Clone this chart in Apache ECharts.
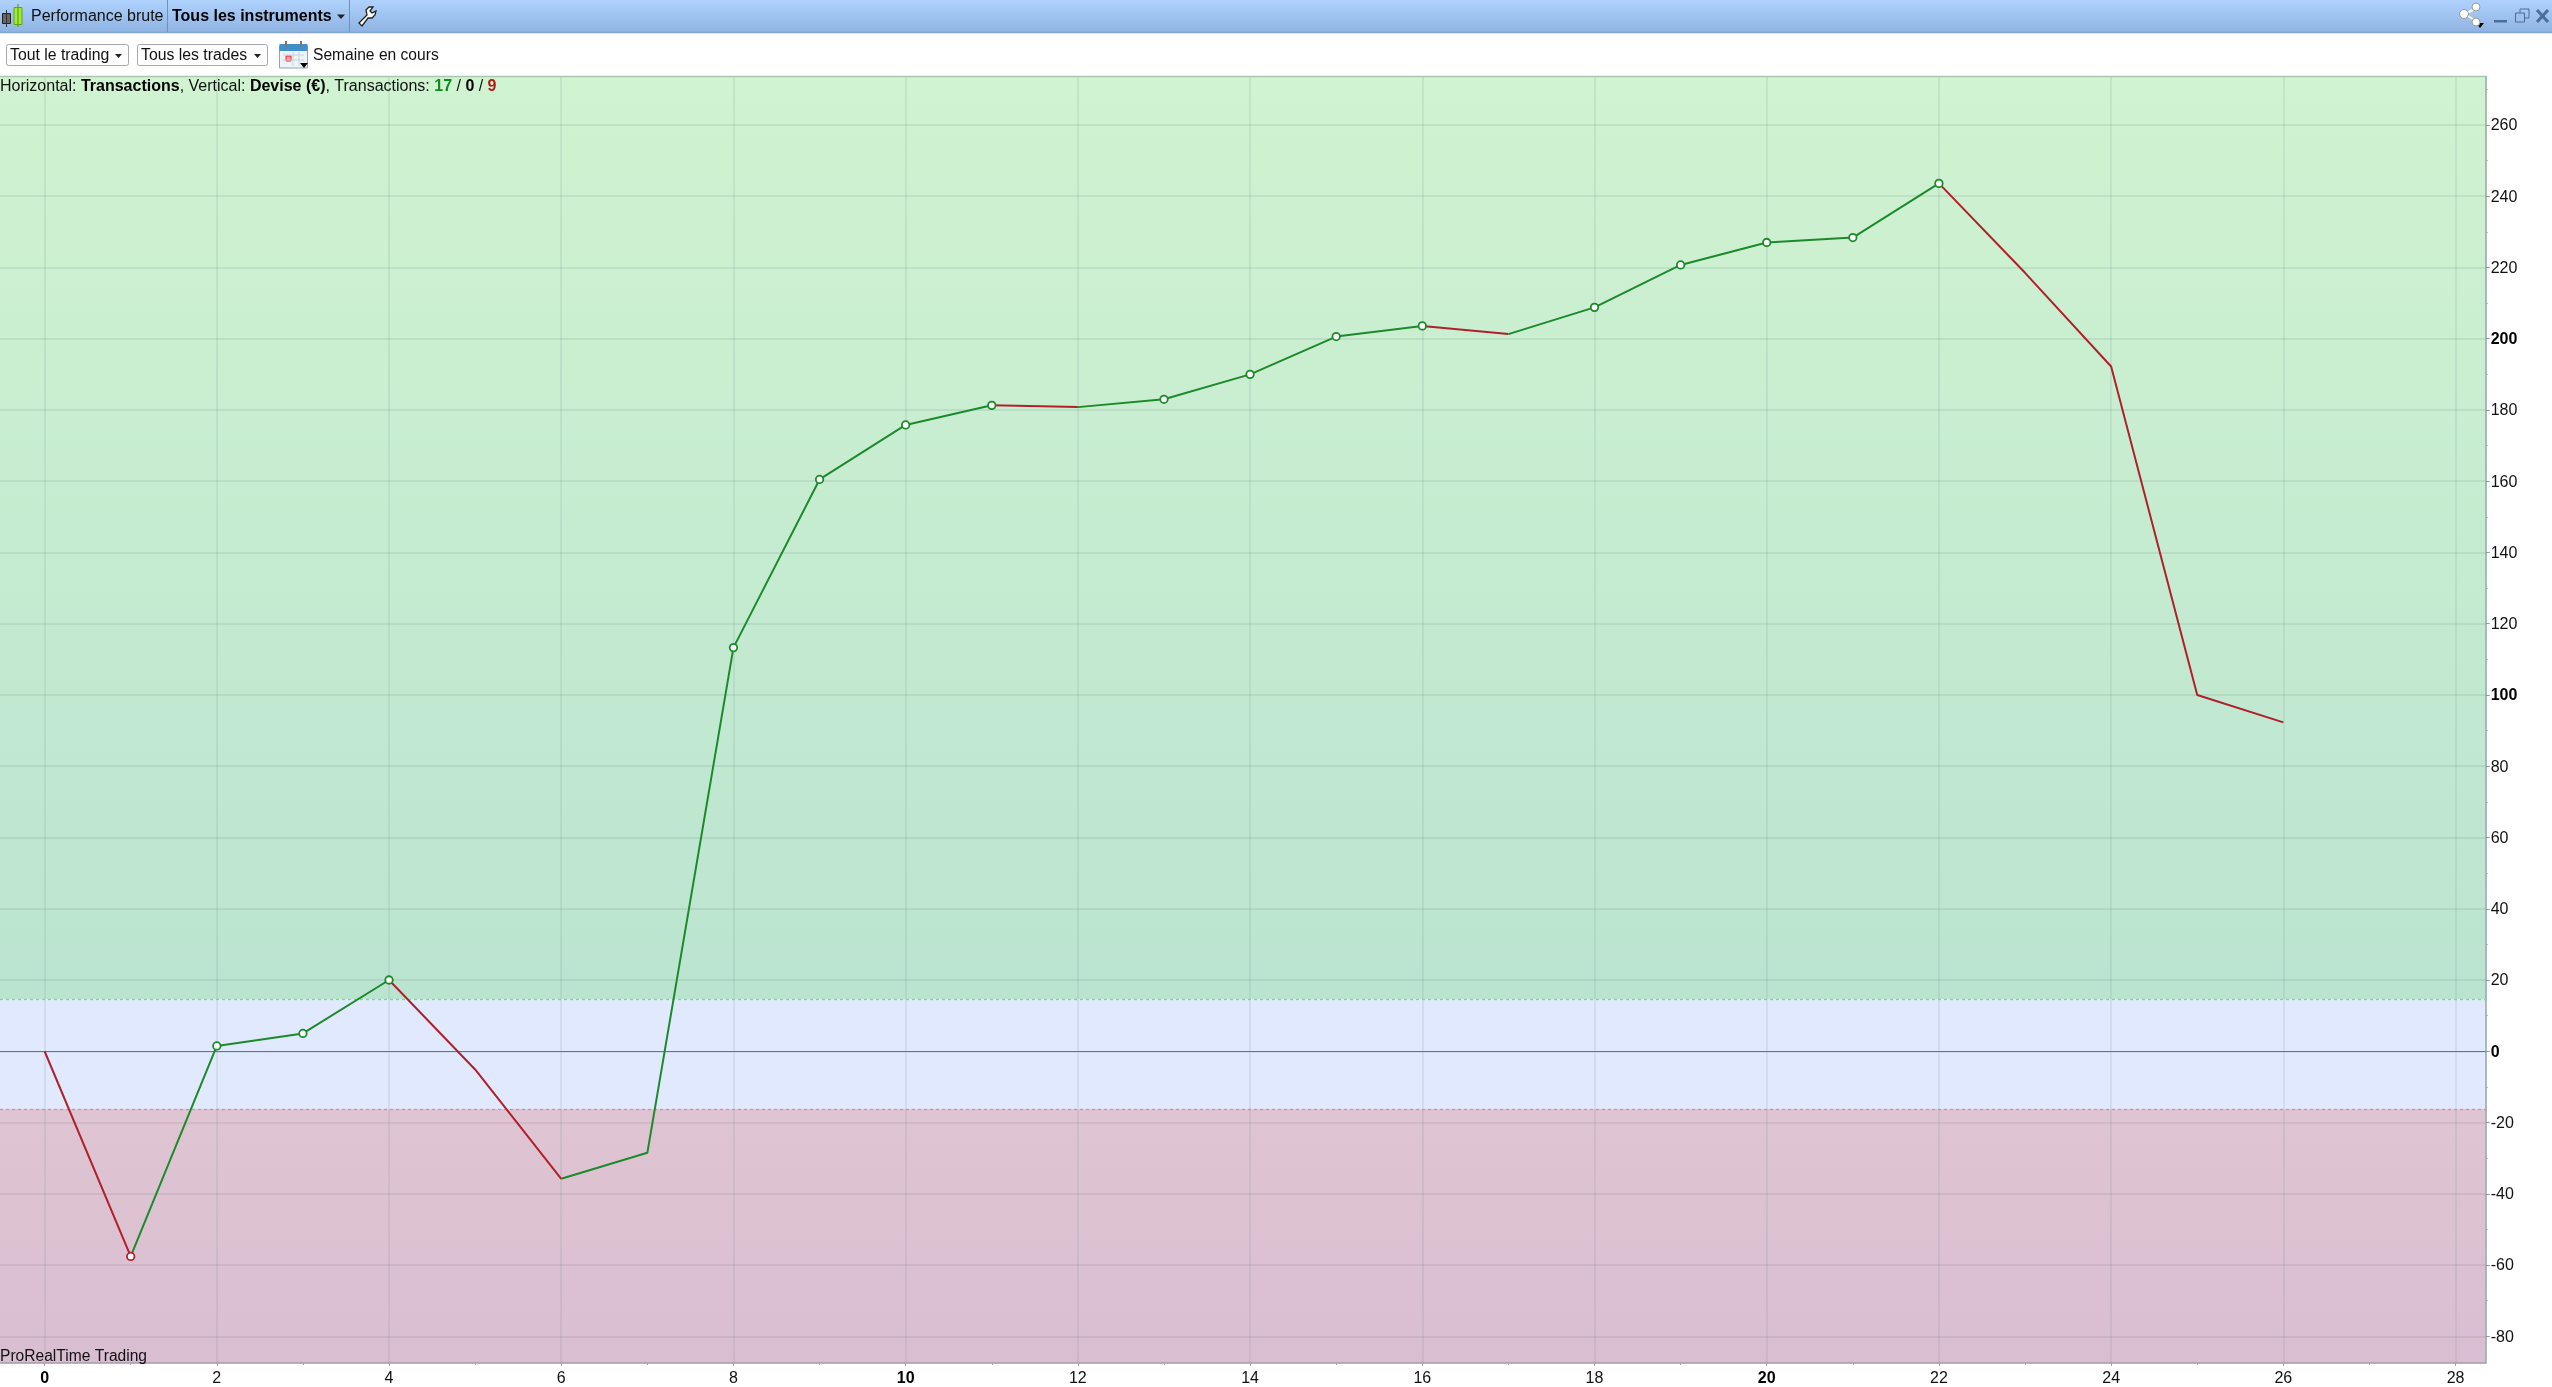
<!DOCTYPE html>
<html><head><meta charset="utf-8">
<style>html,body{margin:0;padding:0;background:#fff;overflow:hidden}#c{width:2552px;height:1387px}</style>
<script src="https://cdn.jsdelivr.net/npm/echarts@6/dist/echarts.min.js"></script>
</head><body><div id="c"></div>
<script>
const tradeIndex = [0,1,2,3,4,5,6,7,8,9,10,11,12,13,14,15,16,17,18,19,20,21,22,23,24,25,26];
const netProfit = [0,-57.6,1.5,5,20,-5.1,-35.8,-28.5,113.3,160.5,175.8,181.3,180.8,183,190,200.6,203.6,201.3,208.8,220.7,227,228.4,243.6,218.5,192.2,100,92.3];
const winMarkers = [2,3,4,8,9,10,11,13,14,15,16,18,19,20,21,22];
const lossMarkers = [1];
const xTicks = [0,2,4,6,8,10,12,14,16,18,20,22,24,26,28];
const xMinorTicks = [1,3,5,7,9,11,13,15,17,19,21,23,25,27];
const yTicks = [-80,-60,-40,-20,0,20,40,60,80,100,120,140,160,180,200,220,240,260];
const yMinorTicks = [-70,-50,-30,-10,10,30,50,70,90,110,130,150,170,190,210,230,250,270];
const boldX = [0,10,20];
const boldY = [0,100,200];
const xMin = -0.518, xMax = 28.35, yMin = -87.5, yMax = 273.6;
const neutralTop = 14.7, neutralBottom = -16.2;

const FONT = '"Liberation Sans", Arial, sans-serif';
const GREEN = '#1c8a2b', RED = '#b0202c';

const runs = [];
for (let i = 1; i < netProfit.length; i++) {
  const up = netProfit[i] >= netProfit[i-1];
  const last = runs[runs.length-1];
  if (last && last.up === up) last.pts.push([tradeIndex[i], netProfit[i]]);
  else runs.push({up, pts:[[tradeIndex[i-1], netProfit[i-1]],[tradeIndex[i], netProfit[i]]]});
}
const lineSeries = runs.map(r => ({
  type:'line', data:r.pts, symbol:'none', silent:true, z:5, animation:false,
  lineStyle:{color:r.up?GREEN:RED, width:2}
}));
const grad = (a,b) => ({type:'linear',x:0,y:0,x2:0,y2:1,colorStops:[{offset:0,color:a},{offset:1,color:b}]});

const boldFmt = list => v => '{' + (list.includes(v) ? 'b' : 'n') + '|' + v + '}';
const labelRich = {
  b:{fontFamily:FONT,fontSize:16,fontWeight:'bold',color:'#000',padding:[2,0,0,0]},
  n:{fontFamily:FONT,fontSize:16,color:'#111',padding:[2,0,0,0]}
};

const txt = (x,y,text,extra={}) => ({type:'text',x,y,z:50,silent:true,style:Object.assign({text,fill:'#111',font:'16px '+FONT,verticalAlign:'middle',align:'left'},extra)});
const rect = (x,y,w,h,fill,stroke) => ({type:'rect',z:40,silent:true,shape:{x,y,width:w,height:h},style:{fill,stroke:stroke||null,lineWidth:1}});
const tri = (x,y,w,h,fill) => ({type:'polygon',z:45,silent:true,shape:{points:[[x,y],[x+w,y],[x+w/2,y+h]]},style:{fill:fill||'#222'}});
const ln = (x1,y1,x2,y2,stroke,w) => ({type:'line',z:45,silent:true,shape:{x1,y1,x2,y2},style:{stroke,lineWidth:w||1}});

const chrome = [
  rect(0,0,2552,32,grad('#afd2fd','#8fb4e2')),
  ln(0,32.5,2552,32.5,'#7fa3cf',1.5),
  ln(167.5,0,167.5,32,'#6f93bf'),
  ln(349.5,0,349.5,32,'#6f93bf'),
  ln(0,76.5,2486,76.5,'#a6c9ad',1.5),
  // candle icon
  ln(6.5,10,6.5,27,'#333',1), rect(2.5,13.5,8,10,'#666','#222'),
  ln(18,4,18,27,'#5aa80e',1.2), rect(14,7.5,8,17,'#a4e83a','#5aa80e'),
  txt(31,17,'Performance brute'),
  txt(172,17,'Tous les instruments',{font:'bold 16px '+FONT,fill:'#000'}),
  tri(337,14.5,8,4.5),
  {type:'polygon',z:45,silent:true,shape:{points:[[359,23],[367,15],[366,10],[369,7],[373,7],[370,11],[372,13],[376,11],[375,15],[372,18],[368,18],[362,26]]},style:{fill:'#fff',stroke:'#222',lineWidth:1.3}},
  // window controls
  ln(2465,14,2477,8,'#fff',2), ln(2465,14,2477,22,'#fff',2),
  {type:'circle',z:46,silent:true,shape:{cx:2464,cy:14,r:4.5},style:{fill:'#fff',stroke:'#999'}},
  {type:'circle',z:46,silent:true,shape:{cx:2476,cy:7,r:4},style:{fill:'#fff',stroke:'#999'}},
  {type:'circle',z:46,silent:true,shape:{cx:2476,cy:22,r:4},style:{fill:'#fff',stroke:'#999'}},
  tri(2476,23,8,5,'#000'),
  rect(2494,20,13,2.5,'#4d6d96'),
  rect(2520,9,9,9,'none','#4d6d96'),
  rect(2515.5,13,9,9,'#9dc1ec','#4d6d96'),
  ln(2537,10,2548,22,'#4d6d96',3), ln(2548,10,2537,22,'#4d6d96',3),
  // row 2
  {type:'rect',z:40,silent:true,shape:{x:6.5,y:44.5,width:122,height:21,r:2},style:{fill:'#fdfdfd',stroke:'#a9a9a9'}},
  txt(10,56,'Tout le trading',{font:'15.8px '+FONT}), tri(115,54,7,4),
  {type:'rect',z:40,silent:true,shape:{x:137.5,y:44.5,width:130,height:21,r:2},style:{fill:'#fdfdfd',stroke:'#a9a9a9'}},
  txt(141,56,'Tous les trades',{font:'15.8px '+FONT}), tri(254,54,7,4),
  // calendar
  rect(279.5,46,28,22,'#eef3f8','#8ea5bb'),
  rect(279.5,44,28,7,'#3f8fc9'),
  rect(285,41,2,6,'#777'), rect(300,41,2,6,'#777'),
  rect(286,56,5,5,'#f4a0a0','#e23'),
  ln(283,55,304,55,'#c5d2de'), ln(283,60,304,60,'#c5d2de'), ln(293,52,293,66,'#c5d2de'), ln(299,52,299,66,'#c5d2de'),
  tri(300,63,8,5,'#000'),
  txt(313,56,'Semaine en cours',{font:'15.6px '+FONT}),
  // info line
  {type:'text',x:0,y:87,z:50,silent:true,style:{
    text:'{n|Horizontal: }{b|Transactions}{n|, Vertical: }{b|Devise (€)}{n|, Transactions: }{g|17}{n| / }{b|0}{n| / }{r|9}',
    verticalAlign:'middle',align:'left',
    rich:{
      n:{font:'16px '+FONT,fill:'#111'},
      b:{font:'bold 16px '+FONT,fill:'#000'},
      g:{font:'bold 16px '+FONT,fill:'#0f8a1f'},
      r:{font:'bold 16px '+FONT,fill:'#b81414'}
    }
  }},
  txt(0,1357,'ProRealTime Trading',{font:'15.6px '+FONT})
];

const option = {
  animation:false,
  backgroundColor:'#fff',
  grid:{left:0,right:66.3,top:76.5,bottom:21.3,containLabel:false,show:false},
  xAxis:[
    {type:'value',position:'bottom',min:xMin,max:xMax,z:1,
     axisLine:{show:true,onZero:false,lineStyle:{color:'#a59aa8',width:1.5}},
     axisTick:{show:true,length:3,customValues:xTicks,lineStyle:{color:'#a9a0ad'}},
     axisLabel:{show:true,customValues:xTicks,margin:6,fontFamily:FONT,fontSize:16,color:'#111',formatter:boldFmt(boldX),rich:labelRich},
     splitLine:{show:true,lineStyle:{color:'rgba(90,110,130,0.14)',width:1.5}}},
    {type:'value',position:'bottom',min:xMin,max:xMax,z:1,
     axisLine:{show:false,onZero:false},
     axisTick:{show:true,length:2,customValues:xMinorTicks,lineStyle:{color:'#a9a0ad'}},
     axisLabel:{show:false},splitLine:{show:false}}
  ],
  yAxis:[
    {type:'value',position:'right',min:yMin,max:yMax,z:1,
     axisLine:{show:true,onZero:false,lineStyle:{color:'#93a3ad',width:1.5}},
     axisTick:{show:true,length:4,customValues:yTicks,lineStyle:{color:'#8f98a0'}},
     axisLabel:{show:true,customValues:yTicks,margin:5,fontFamily:FONT,fontSize:16,color:'#111',formatter:boldFmt(boldY),rich:labelRich},
     splitLine:{show:true,lineStyle:{color:'rgba(80,100,100,0.14)',width:1.5}}},
    {type:'value',position:'right',min:yMin,max:yMax,z:1,
     axisLine:{show:false,onZero:false},
     axisTick:{show:true,length:2,customValues:yMinorTicks,lineStyle:{color:'#a0a8b0'}},
     axisLabel:{show:false},splitLine:{show:false}}
  ],
  series:[
    {type:'line',data:[],z:0,silent:true,animation:false,
     markArea:{silent:true,animation:false,z:0,data:[
       [{yAxis:neutralTop,itemStyle:{color:grad('#d0f3d0','#bbe4d0')}},{yAxis:yMax}],
       [{yAxis:neutralBottom,itemStyle:{color:'#e0e9fd'}},{yAxis:neutralTop}],
       [{yAxis:yMin,itemStyle:{color:grad('#dfc5d2','#d9bed1')}},{yAxis:neutralBottom}]
     ]}},
    {type:'line',data:[],z:3,silent:true,animation:false,
     markLine:{silent:true,animation:false,symbol:'none',label:{show:false},data:[
       {yAxis:neutralTop,lineStyle:{color:'#74e07a',type:[3,3],width:1.3}},
       {yAxis:neutralBottom,lineStyle:{color:'#e08a98',type:[3,3],width:1.3}},
       {yAxis:0,lineStyle:{color:'#5a6ae6',type:'solid',width:1.2}}
     ]}},
    ...lineSeries,
    {type:'scatter',silent:true,z:6,animation:false,symbol:'circle',symbolSize:7.5,
     data:winMarkers.map(i=>[tradeIndex[i],netProfit[i]]),
     itemStyle:{color:'#fff',borderColor:GREEN,borderWidth:1.8,opacity:1}},
    {type:'scatter',silent:true,z:6,animation:false,symbol:'circle',symbolSize:7.5,
     data:lossMarkers.map(i=>[tradeIndex[i],netProfit[i]]),
     itemStyle:{color:'#fff',borderColor:RED,borderWidth:1.8,opacity:1}}
  ],
  graphic:{elements:chrome}
};
const chart = echarts.init(document.getElementById('c'),null,{renderer:'canvas'});
chart.setOption(option);
</script></body></html>
